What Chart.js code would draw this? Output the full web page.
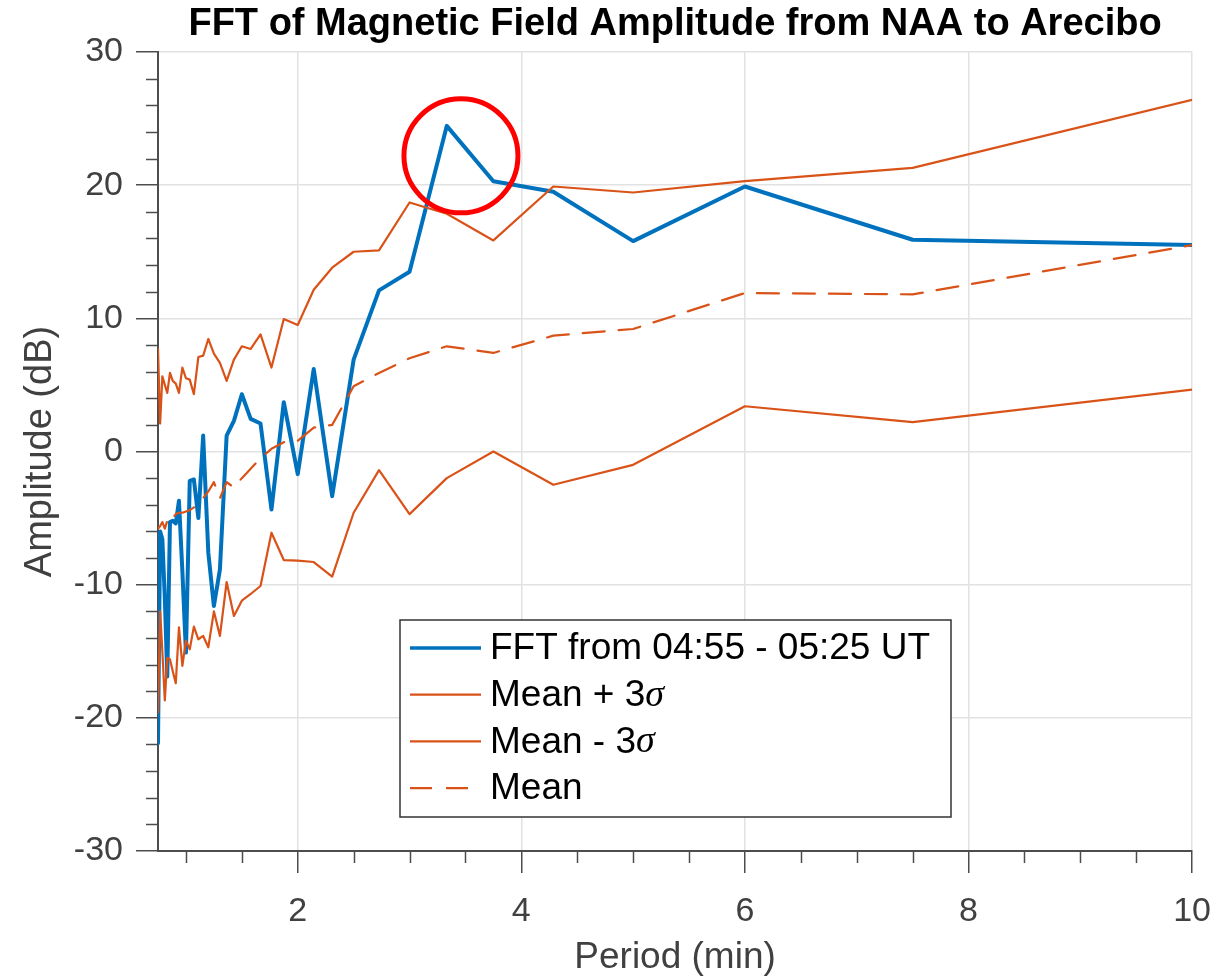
<!DOCTYPE html>
<html>
<head>
<meta charset="utf-8">
<title>FFT of Magnetic Field Amplitude from NAA to Arecibo</title>
<script src="https://cdn.jsdelivr.net/npm/chart.js@4.4.1/dist/chart.umd.min.js"></script>
<style>
  html, body { margin: 0; padding: 0; background: #fff; }
  #wrap { width: 1229px; height: 976px; }
</style>
</head>
<body>
<div id="wrap"><canvas id="fft-chart" width="1229" height="976"></canvas></div>
<script>
// period (min) of each FFT bin
const periods = [0.75, 0.769, 0.789, 0.811, 0.833, 0.857, 0.882, 0.909, 0.9375, 0.968,
  1.0, 1.034, 1.071, 1.111, 1.154, 1.2, 1.25, 1.304, 1.364, 1.429,
  1.5, 1.579, 1.667, 1.765, 1.875, 2.0, 2.143, 2.308, 2.5, 2.727,
  3.0, 3.333, 3.75, 4.286, 5.0, 6.0, 7.5, 10.0];

const fftAmp = [-21.9, -6.0, -6.6, -11.0, -16.9, -5.3, -5.2, -5.4, -3.7, -9.0,
  -15.1, -2.2, -2.1, -5.0, 1.2, -7.6, -11.6, -8.85, 1.2, 2.3,
  4.3, 2.45, 2.1, -4.35, 3.7, -1.7, 6.2, -3.35, 6.9, 12.1,
  13.5, 24.45, 20.3, 19.5, 15.8, 19.9, 15.9, 15.5];

const meanPlus3 = [7.7, 2.1, 5.65, 5.0, 4.4, 5.9, 5.3, 5.1, 4.4, 6.3,
  5.5, 5.4, 4.3, 7.1, 7.2, 8.45, 7.35, 6.65, 5.3, 6.9,
  7.9, 7.7, 8.8, 6.3, 9.95, 9.5, 12.15, 13.8, 15.0, 15.1,
  18.7, 17.85, 15.85, 19.9, 19.45, 20.3, 21.3, 26.4];

const meanMinus3 = [-19.6, -12.0, -15.0, -18.7, -15.5, -15.6, -16.5, -17.4, -13.2, -16.1,
  -14.2, -14.85, -13.15, -14.1, -13.85, -14.7, -12.0, -13.85, -9.8, -12.35,
  -11.2, -10.7, -10.1, -6.1, -8.15, -8.2, -8.3, -9.4, -4.6, -1.4,
  -4.7, -2.0, 0.0, -2.5, -1.0, 3.4, 2.2, 4.65];

const meanAmp = [-5.8, -5.6, -5.3, -5.8, -5.2, -5.4, -5.0, -4.7, -4.6, -4.6,
  -4.5, -4.4, -4.2, -3.9, -3.5, -3.0, -2.3, -3.5, -2.3, -2.7,
  -2.0, -1.3, -0.5, 0.2, 0.7, 0.8, 1.8, 2.0, 4.9, 5.9,
  7.0, 7.9, 7.4, 8.7, 9.2, 11.9, 11.8, 15.5];

const xTickValues = [2, 4, 6, 8, 10];
const xMinorTicks = [1, 1.5, 2.5, 3, 3.5, 4.5, 5, 5.5, 6.5, 7, 7.5, 8.5, 9, 9.5];
const yTickValues = [-30, -20, -10, 0, 10, 20, 30];
const yMinorTicks = [-28, -26, -24, -22, -18, -16, -14, -12, -8, -6, -4, -2,
  2, 4, 6, 8, 12, 14, 16, 18, 22, 24, 26, 28];

const seriesLabels = ["FFT from 04:55 - 05:25 UT", "Mean + 3σ", "Mean - 3σ", "Mean"];
const chartTitle = "FFT of Magnetic Field Amplitude from NAA to Arecibo";
const peakMark = { period: 3.46, amp: 22.2 };

const BLUE = "#0072bd";
const ORANGE = "#d95319";
const AXIS_GREY = "#4d4d4d";
const LABEL_GREY = "#404040";
const SANS = "'Liberation Sans', Arial, Helvetica, sans-serif";
const SERIF = "'Liberation Serif', 'DejaVu Serif', serif";

function pts(ys){
  return periods.map((p, i) => ({ x: p, y: ys[i] }));
}

function drawLabel(ctx, text, x, y){
  // the sigma is set in an italic serif, like the TeX text in the original
  const parts = text.split("σ");
  ctx.font = `37px ${SANS}`;
  ctx.fillText(parts[0], x, y);
  if (parts.length > 1){
    const w = ctx.measureText(parts[0]).width;
    ctx.font = `italic 38px ${SERIF}`;
    ctx.fillText("σ", x + w, y);
  }
}

const decor = {
  id: "decor",
  afterDraw(chart){
    const { ctx, chartArea: a, scales: { x, y } } = chart;
    ctx.save();

    // minor ticks
    ctx.strokeStyle = AXIS_GREY;
    ctx.lineWidth = 1.5;
    ctx.beginPath();
    xMinorTicks.forEach((v) => {
      const px = Math.round(x.getPixelForValue(v)) + 0.5;
      ctx.moveTo(px, a.bottom);
      ctx.lineTo(px, a.bottom + 12);
    });
    yMinorTicks.forEach((v) => {
      const py = Math.round(y.getPixelForValue(v)) + 0.5;
      ctx.moveTo(a.left, py);
      ctx.lineTo(a.left - 12, py);
    });
    ctx.stroke();

    // title
    ctx.fillStyle = "#000";
    ctx.font = `bold 38px ${SANS}`;
    ctx.textAlign = "center";
    ctx.textBaseline = "middle";
    ctx.fillText(chartTitle, (a.left + a.right) / 2, 25);

    // red highlight circle round the peak
    ctx.strokeStyle = "#ff0000";
    ctx.lineWidth = 5;
    ctx.beginPath();
    ctx.arc(x.getPixelForValue(peakMark.period), y.getPixelForValue(peakMark.amp), 57, 0, Math.PI * 2);
    ctx.stroke();

    // legend
    const box = { left: 400, top: 620, w: 551, h: 197 };
    ctx.fillStyle = "#fff";
    ctx.fillRect(box.left, box.top, box.w, box.h);
    ctx.strokeStyle = "#333";
    ctx.lineWidth = 1.5;
    ctx.strokeRect(box.left, box.top, box.w, box.h);
    const ds = chart.data.datasets;
    ctx.textAlign = "left";
    ctx.textBaseline = "middle";
    seriesLabels.forEach((lab, i) => {
      const ry = box.top + 28 + i * 46.7;
      ctx.strokeStyle = ds[i].borderColor;
      ctx.lineWidth = i === 0 ? 3.5 : 2.2;
      ctx.setLineDash(ds[i].borderDash || []);
      ctx.beginPath();
      ctx.moveTo(410, ry);
      ctx.lineTo(481, ry);
      ctx.stroke();
      ctx.setLineDash([]);
      ctx.fillStyle = "#000";
      drawLabel(ctx, lab, 490, ry + 1);
    });

    ctx.restore();
  },
};

new Chart(document.getElementById("fft-chart"), {
  type: "line",
  data: {
    datasets: [
      { label: seriesLabels[0], data: pts(fftAmp), borderColor: BLUE, borderWidth: 4, order: 4 },
      { label: seriesLabels[1], data: pts(meanPlus3), borderColor: ORANGE, borderWidth: 2.2, order: 1 },
      { label: seriesLabels[2], data: pts(meanMinus3), borderColor: ORANGE, borderWidth: 2.2, order: 2 },
      { label: seriesLabels[3], data: pts(meanAmp), borderColor: ORANGE, borderWidth: 2.2, borderDash: [22, 14], order: 3 },
    ],
  },
  options: {
    responsive: false,
    animation: false,
    devicePixelRatio: 1,
    layout: { padding: { left: 0, right: 36, top: 52, bottom: 0 } },
    elements: {
      point: { radius: 0, hoverRadius: 0 },
      line: { tension: 0, fill: false, borderJoinStyle: "round", borderCapStyle: "round" },
    },
    plugins: {
      legend: { display: false },
      tooltip: { enabled: false },
      title: { display: false },
    },
    scales: {
      x: {
        type: "linear",
        min: 0.75,
        max: 10,
        afterBuildTicks: (scale) => { scale.ticks = xTickValues.map((v) => ({ value: v })); },
        afterFit: (scale) => { scale.height = 125; },
        grid: { color: "#e2e2e2", lineWidth: 1.5, tickColor: AXIS_GREY, tickLength: 22, tickWidth: 1.5 },
        border: { color: AXIS_GREY, width: 2 },
        ticks: { color: LABEL_GREY, font: { family: SANS, size: 34 }, padding: 18, maxRotation: 0, callback: (v) => String(v) },
        title: { display: true, text: "Period (min)", color: LABEL_GREY, font: { family: SANS, size: 37, lineHeight: 1 }, padding: { top: 0, bottom: 0 } },
      },
      y: {
        min: -30,
        max: 30,
        afterBuildTicks: (scale) => { scale.ticks = yTickValues.map((v) => ({ value: v })); },
        afterFit: (scale) => { scale.width = 158; },
        grid: { color: "#e2e2e2", lineWidth: 1.5, tickColor: AXIS_GREY, tickLength: 22, tickWidth: 1.5 },
        border: { color: AXIS_GREY, width: 2 },
        ticks: { color: LABEL_GREY, font: { family: SANS, size: 34 }, padding: 13, callback: (v) => String(v) },
        title: { display: true, text: "Amplitude (dB)", color: LABEL_GREY, font: { family: SANS, size: 38, lineHeight: 1 }, padding: { top: 22, bottom: 0 } },
      },
    },
  },
  plugins: [decor],
});
</script>
</body>
</html>
